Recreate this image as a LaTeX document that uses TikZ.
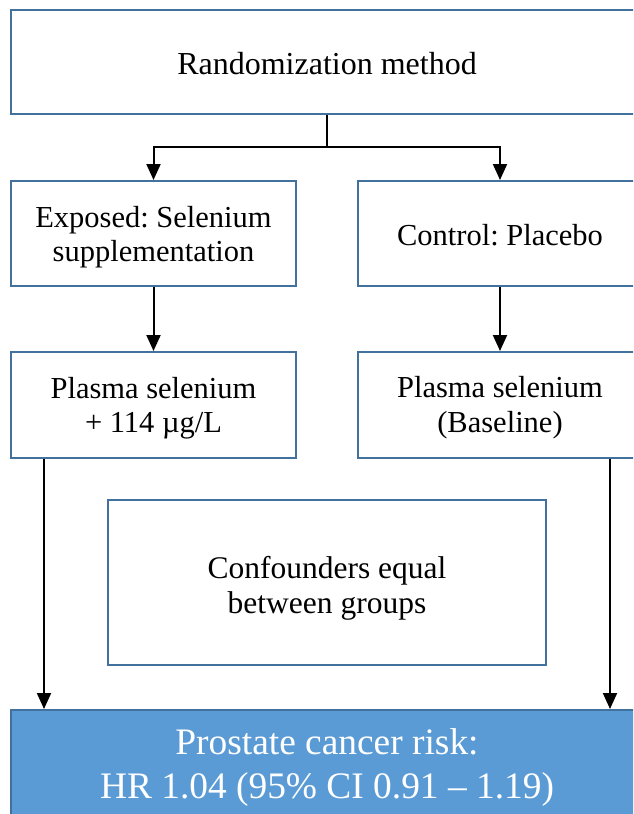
\documentclass[tikz,border=0pt]{standalone}
\usepackage{fontspec}
\setmainfont{Liberation Serif}
\usetikzlibrary{arrows.meta}
\definecolor{boxline}{HTML}{41719C}
\definecolor{boxfill}{HTML}{5B9BD5}
\frenchspacing
\tikzset{
  stepbox/.style={draw=boxline, line width=2pt, fill=white, inner sep=0pt},
  outbox/.style={stepbox, fill=boxfill},
  txt/.style={inner sep=0pt, align=center},
  fa/.style={font=\fontsize{32}{35}\selectfont},
  fb/.style={font=\fontsize{30.5}{34.5}\selectfont},
  fc/.style={font=\fontsize{31.5}{34.4}\selectfont},
  fd/.style={font=\fontsize{37.4}{44.3}\selectfont, text=white},
  conn/.style={line width=2pt, draw=black},
  arr/.style={conn, -{Triangle[width=14pt,length=16pt]}}
}
\begin{document}
\begin{tikzpicture}[x=1pt,y=-1pt]
\useasboundingbox (0,0) rectangle (633,814);
\clip (0,0) rectangle (633,814);
% boxes
\node[stepbox, minimum width=632pt, minimum height=104pt] (top) at (327,62) {};
\node[stepbox, minimum width=285pt, minimum height=105pt] (expl) at (153.5,233.5) {};
\node[stepbox, minimum width=284pt, minimum height=105pt] (ctrl) at (500,233.5) {};
\node[stepbox, minimum width=285pt, minimum height=106pt] (pll) at (153.5,405) {};
\node[stepbox, minimum width=284pt, minimum height=106pt] (plr) at (500,405) {};
\node[stepbox, minimum width=438pt, minimum height=165pt] (conf) at (327,582.5) {};
\node[outbox, minimum width=632pt, minimum height=108pt] (bot) at (327,764) {};
% texts
\node[txt, fa] (topt) at (327,63.4) {Randomization method};
\node[txt, fb] (explt) at (153.5,237.4) {Exposed: Selenium\\supplementation};
\node[txt, fb] (ctrlt) at (500,235.3) {Control: Placebo};
\node[txt, fb] (pllt) at (153.5,408.2) {Plasma selenium\\+ 114 µg/L};
\node[txt, fb] (plrt) at (500,407.5) {Plasma selenium\\(Baseline)};
\node[txt, fc] (conft) at (327,588.2) {Confounders equal\\between groups};
\node[txt, fd] (bott) at (327,767.7) {Prostate cancer risk:\\HR 1.04 (95\% CI 0.91 -- 1.19)};
% connectors
\coordinate (j) at (327,147);
\draw[conn] (top.south) -- (j);
\draw[arr] (j) -| (expl.north);
\draw[arr] (j) -| (ctrl.north);
\draw[arr] (expl.south) -- (pll.north);
\draw[arr] (ctrl.south) -- (plr.north);
\coordinate (ls) at ([xshift=34pt]pll.south west);
\coordinate (rs) at ([xshift=-33pt]plr.south east);
\draw[arr] (ls) -- (ls |- bot.north);
\draw[arr] (rs) -- (rs |- bot.north);
\end{tikzpicture}
\end{document}
